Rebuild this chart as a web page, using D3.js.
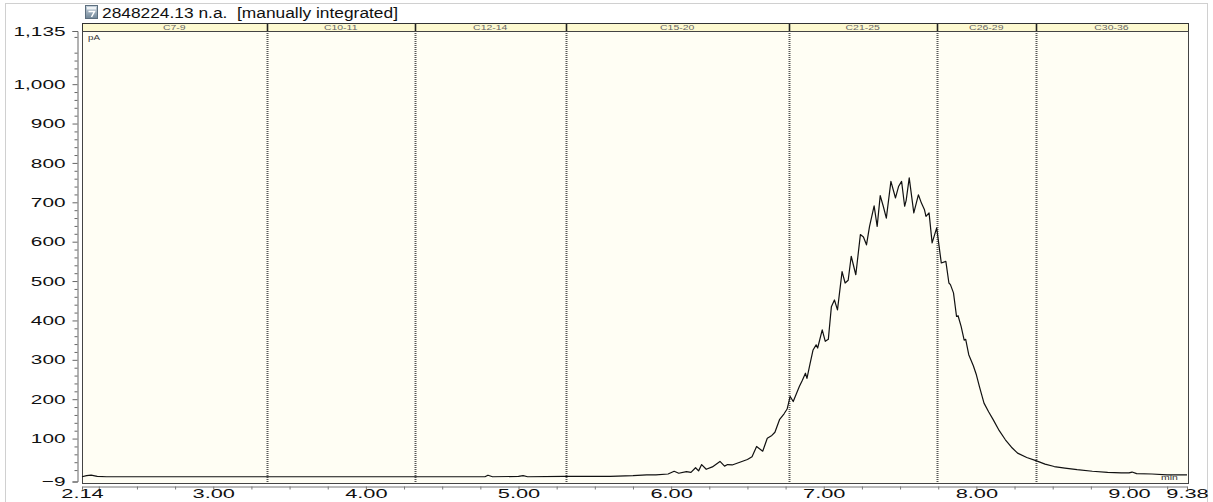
<!DOCTYPE html>
<html>
<head>
<meta charset="utf-8">
<script src="https://cdn.jsdelivr.net/npm/d3@7"></script>
<style>
  body { margin: 0; background: #fff; }
  svg { display: block; font-family: Arial, 'Liberation Sans', sans-serif; }
</style>
</head>
<body>
<div id="chart"></div>
<script>
// Retention time (min) and detector signal (pA)
var timeMin = [
  2.14, 2.17, 2.20, 2.24, 2.30, 3.00, 4.00, 4.50, 4.78, 4.80, 4.83, 5.00, 5.03, 5.06,
  5.30, 5.60, 5.75, 5.84, 5.90, 5.98, 6.02, 6.05, 6.10, 6.13, 6.16, 6.18, 6.20, 6.23,
  6.27, 6.32, 6.35, 6.37, 6.40, 6.45, 6.50, 6.53, 6.56, 6.60, 6.63, 6.66, 6.68, 6.71,
  6.74, 6.76, 6.78, 6.80, 6.82, 6.84, 6.86, 6.88, 6.89, 6.91, 6.93, 6.95, 6.96, 6.99,
  7.01, 7.03, 7.05, 7.07, 7.09, 7.12, 7.14, 7.16, 7.18, 7.21, 7.24, 7.26, 7.28, 7.30,
  7.33, 7.35, 7.37, 7.39, 7.41, 7.44, 7.47, 7.49, 7.51, 7.53, 7.54, 7.56, 7.59, 7.62,
  7.64, 7.66, 7.67, 7.69, 7.71, 7.74, 7.77, 7.80, 7.82, 7.83, 7.85, 7.87, 7.88, 7.90,
  7.92, 7.93, 7.95, 7.98, 8.00, 8.02, 8.05, 8.08, 8.11, 8.15, 8.19, 8.23, 8.27, 8.33,
  8.39, 8.45, 8.51, 8.58, 8.66, 8.76, 8.86, 8.95, 9.00, 9.02, 9.05, 9.15, 9.25, 9.38
]
var signalPA = [
  3, 6, 7, 4, 3, 3, 3, 3, 3, 7, 3, 4, 6, 3,
  4, 4, 6, 8, 8, 10, 17, 12, 16, 14, 26, 18, 34, 22,
  28, 42, 30, 34, 33, 40, 47, 54, 80, 68, 101, 108, 116, 148,
  163, 175, 207, 194, 213, 232, 248, 266, 253, 290, 325, 338, 330, 376,
  347, 352, 435, 452, 427, 524, 495, 502, 563, 516, 618, 612, 592, 639,
  691, 639, 717, 690, 660, 753, 711, 740, 753, 690, 705, 762, 673, 719,
  698, 681, 664, 673, 597, 635, 546, 550, 495, 491, 470, 410, 412, 385,
  350, 352, 313, 285, 262, 232, 190, 168, 148, 120, 97, 78, 63, 52,
  44, 35, 29, 25, 21, 17, 14, 13, 13, 15, 11, 10, 8, 8
]

// Integration groups and their boundaries (min)
var bandNames = ['C7-9', 'C10-11', 'C12-14', 'C15-20', 'C21-25', 'C26-29', 'C30-36']
var bandEdges = [2.14, 3.35, 4.32, 5.31, 6.77, 7.74, 8.39, 9.38]

// Axis ticks
var xTickValues = [2.14, 3, 4, 5, 6, 7, 8, 9, 9.38]
var yTickValues = [-9, 100, 200, 300, 400, 500, 600, 700, 800, 900, 1000, 1135]

var titleText = '2848224.13 n.a.  [manually integrated]'

// Canvas size and plot box
var width = 1213,
  height = 502
var plot = { left: 82, right: 1188, top: 31, bottom: 483, header: 23 }

var svg = d3
  .select('#chart')
  .append('svg')
  .attr('width', width)
  .attr('height', height)

// Scales
var x = d3.scaleLinear().domain([2.14, 9.38]).range([plot.left, 1187])
var y = d3.scaleLinear().domain([-9, 1135]).range([481.5, plot.top])

// Text in the picture is stretched sideways, so widen it with a scale
function stretch(sel, k, tx, ty) {
  sel.attr('transform', 'translate(' + tx + ',' + ty + ') scale(' + k + ',1)')
}

// Outer grey frame
svg
  .append('rect')
  .attr('x', 5.5)
  .attr('y', 3.5)
  .attr('width', 1202)
  .attr('height', 520)
  .attr('fill', 'none')
  .attr('stroke', '#d0d0d0')

// Little icon in front of the title
var grad = svg
  .append('defs')
  .append('linearGradient')
  .attr('id', 'icon')
  .attr('x1', 0)
  .attr('y1', 0)
  .attr('x2', 0)
  .attr('y2', 1)
grad.append('stop').attr('offset', 0).attr('stop-color', '#c9d4de')
grad.append('stop').attr('offset', 1).attr('stop-color', '#6f8597')
svg
  .append('rect')
  .attr('x', 85.5)
  .attr('y', 5.5)
  .attr('width', 12)
  .attr('height', 13)
  .attr('fill', 'url(#icon)')
  .attr('stroke', '#5c6e7e')
svg
  .append('rect')
  .attr('x', 87)
  .attr('y', 7)
  .attr('width', 9)
  .attr('height', 2.5)
  .attr('fill', '#eef2f5')
svg
  .append('path')
  .attr('d', 'M88.5,11.5 H94.5 L91.5,17')
  .attr('fill', 'none')
  .attr('stroke', '#fff')
  .attr('stroke-width', 1.5)

// Title
svg
  .append('text')
  .text(titleText)
  .style('white-space', 'pre')
  .attr('font-size', 15.5)
  .attr('fill', '#111')
  .call(stretch, 1.12, 102, 18)

// Plot background and header strip
svg
  .append('rect')
  .attr('x', plot.left)
  .attr('y', plot.top)
  .attr('width', plot.right - plot.left)
  .attr('height', plot.bottom - plot.top)
  .attr('fill', '#fffef4')
svg
  .append('rect')
  .attr('x', plot.left)
  .attr('y', plot.header)
  .attr('width', plot.right - plot.left)
  .attr('height', plot.top - plot.header)
  .attr('fill', '#fdf9d0')

// Group separators: dotted in the plot, solid in the header
var inner = bandEdges.slice(1, -1)
svg
  .selectAll('.sep')
  .data(inner)
  .enter()
  .append('line')
  .attr('class', 'sep')
  .attr('x1', (d) => Math.round(x(d)) + 0.5)
  .attr('x2', (d) => Math.round(x(d)) + 0.5)
  .attr('y1', plot.top)
  .attr('y2', plot.bottom)
  .attr('stroke', '#555')
  .attr('stroke-width', 2)
  .attr('stroke-dasharray', '1,1')
svg
  .selectAll('.sepHead')
  .data(inner)
  .enter()
  .append('line')
  .attr('class', 'sepHead')
  .attr('x1', (d) => Math.round(x(d)) + 0.5)
  .attr('x2', (d) => Math.round(x(d)) + 0.5)
  .attr('y1', plot.header)
  .attr('y2', plot.top)
  .attr('stroke', '#222')
  .attr('stroke-width', 1.6)

// Group names in the header
svg
  .selectAll('.band')
  .data(bandNames)
  .enter()
  .append('text')
  .attr('class', 'band')
  .text((d) => d)
  .attr('font-size', 7)
  .attr('fill', '#666')
  .attr('text-anchor', 'middle')
  .each(function (d, i) {
    var mid = (x(bandEdges[i]) + x(bandEdges[i + 1])) / 2
    d3.select(this).call(stretch, 1.5, mid, 29.5)
  })

// Header border and plot border
svg
  .append('rect')
  .attr('x', plot.left + 0.5)
  .attr('y', plot.header + 0.5)
  .attr('width', plot.right - plot.left)
  .attr('height', plot.top - plot.header)
  .attr('fill', 'none')
  .attr('stroke', '#333')
svg
  .append('rect')
  .attr('x', plot.left + 0.5)
  .attr('y', plot.top + 0.5)
  .attr('width', plot.right - plot.left)
  .attr('height', plot.bottom - plot.top)
  .attr('fill', 'none')
  .attr('stroke', '#444')

// Y axis with major and minor ticks
var yMinor = d3.range(0, 1135, 20).filter((d) => d % 100 !== 0)
var yAxisG = svg
  .append('g')
  .attr('transform', 'translate(77.5,0)')
yAxisG
  .append('g')
  .call(d3.axisLeft(y).tickValues(yMinor).tickSize(3).tickFormat(''))
  .call((g) => g.select('.domain').remove())
yAxisG
  .append('g')
  .call(d3.axisLeft(y).tickValues(yTickValues).tickSizeOuter(0).tickSize(5).tickFormat(d3.format(',')))
yAxisG.selectAll('line, path').attr('stroke', '#666')
yAxisG
  .selectAll('text')
  .attr('font-size', 13)
  .attr('fill', '#111')
  .attr('x', -12 / 1.6)
  .attr('transform', 'scale(1.6,1)')

// X axis below the plot box
var xMinor = d3.range(2.25, 9.38, 0.25).filter((d) => d % 1 !== 0)
var xAxisG = svg
  .append('g')
  .attr('transform', 'translate(0,486.5)')
xAxisG
  .append('g')
  .call(d3.axisBottom(x).tickValues(xMinor).tickSize(3).tickFormat(''))
  .call((g) => g.select('.domain').remove())
xAxisG
  .append('g')
  .call(d3.axisBottom(x).tickValues(xTickValues).tickSizeOuter(0).tickSize(3).tickFormat(d3.format('.2f')))
xAxisG.selectAll('line, path').attr('stroke', '#777')
xAxisG
  .selectAll('text')
  .attr('font-size', 13)
  .attr('fill', '#111')
  .attr('y', 2)
  .attr('transform', 'scale(1.68,1)')

// Unit labels inside the plot
svg
  .append('text')
  .text('pA')
  .attr('font-size', 7)
  .attr('fill', '#333')
  .call(stretch, 1.4, 88, 40)

// The chromatogram trace
var points = timeMin.map((t, i) => [t, signalPA[i]])
var line = d3
  .line()
  .x((d) => x(d[0]))
  .y((d) => y(d[1]))
svg
  .append('path')
  .datum(points)
  .attr('d', line)
  .attr('fill', 'none')
  .attr('stroke', '#111')
  .attr('stroke-width', 1.2)
  .attr('stroke-linejoin', 'round')

svg
  .append('text')
  .text('min')
  .attr('font-size', 7.5)
  .attr('fill', '#333')
  .call(stretch, 1.4, 1161, 480)
</script>
</body>
</html>
